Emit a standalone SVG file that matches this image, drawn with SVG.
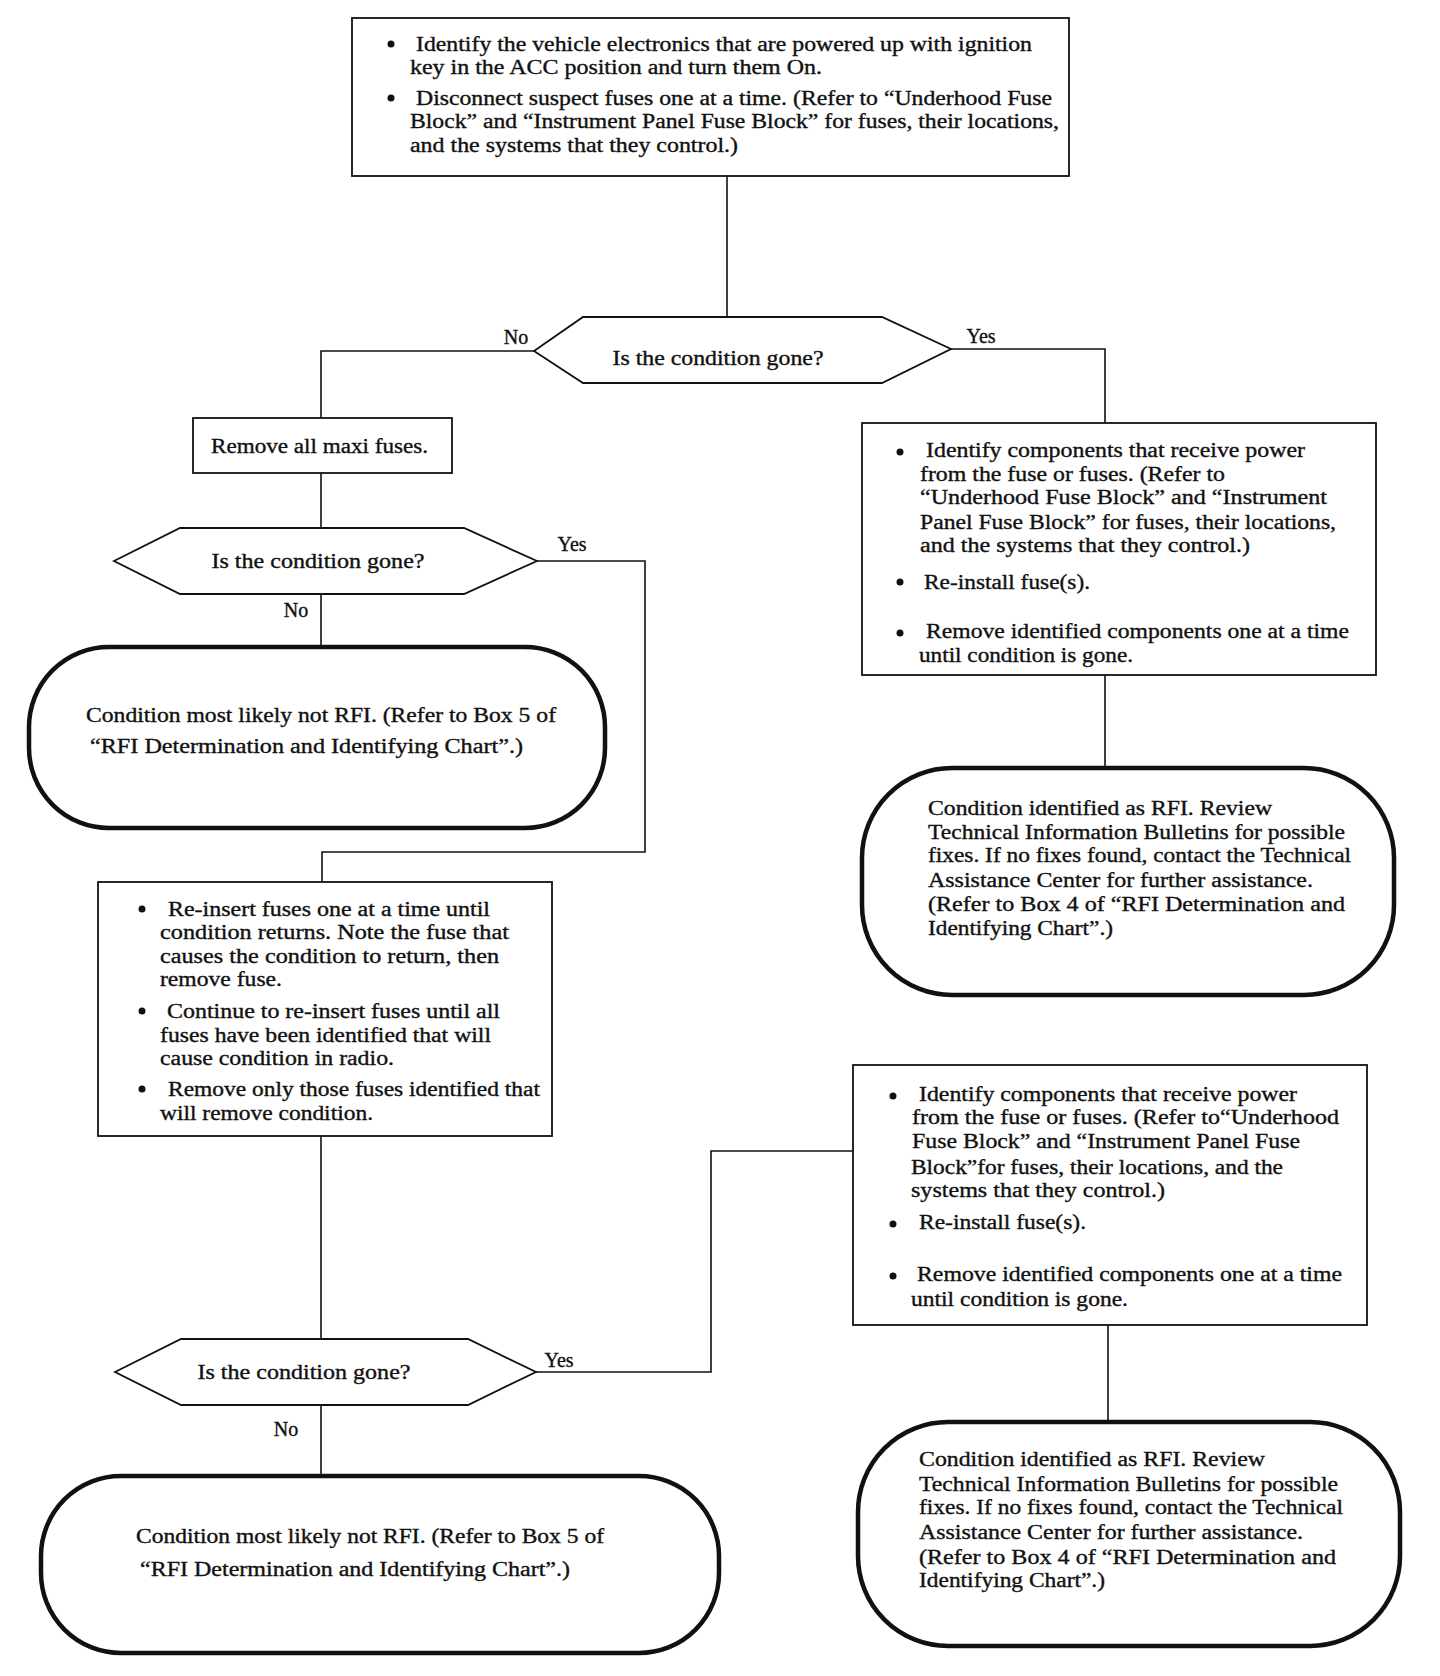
<svg xmlns="http://www.w3.org/2000/svg" width="1440" height="1676" viewBox="0 0 1440 1676">
<style>
text{font-family:"Liberation Serif","Times New Roman",serif;font-size:20px;fill:#111;stroke:#111;stroke-width:0.35}
.box{fill:#fff;stroke:#111;stroke-width:1.8}
.term{fill:#fff;stroke:#111;stroke-width:4.5}
.dec{fill:#fff;stroke:#111;stroke-width:1.8}
.con{fill:none;stroke:#111;stroke-width:1.6}
.lbl{font-size:20px}
.b{fill:#111}
</style>
<rect width="1440" height="1676" fill="#fff"/>
<g id="connectors">
<polyline class="con" points="727,176 727,317"/>
<polyline class="con" points="534,351 321,351 321,418"/>
<polyline class="con" points="951,349 1105,349 1105,423"/>
<polyline class="con" points="321,473 321,528"/>
<polyline class="con" points="537,561 645,561 645,852 322,852 322,882"/>
<polyline class="con" points="321,594 321,647"/>
<polyline class="con" points="1105,675 1105,768"/>
<polyline class="con" points="321,1136 321,1339"/>
<polyline class="con" points="536,1372 711,1372 711,1151 853,1151"/>
<polyline class="con" points="1108,1325 1108,1422"/>
<polyline class="con" points="321,1405 321,1476"/>
<text class="lbl" x="516" y="344" text-anchor="middle">No</text>
<text class="lbl" x="981" y="343" text-anchor="middle">Yes</text>
<text class="lbl" x="572" y="551" text-anchor="middle">Yes</text>
<text class="lbl" x="296" y="617" text-anchor="middle">No</text>
<text class="lbl" x="559" y="1367" text-anchor="middle">Yes</text>
<text class="lbl" x="286" y="1436" text-anchor="middle">No</text>
</g>
<g id="start">
<rect class="box" x="352" y="18" width="717" height="158"/>
<circle class="b" cx="391" cy="44" r="3.5"/>
<circle class="b" cx="391" cy="98" r="3.5"/>
<text x="416" y="51" textLength="616" lengthAdjust="spacingAndGlyphs">Identify the vehicle electronics that are powered up with ignition</text>
<text x="410" y="74" textLength="412" lengthAdjust="spacingAndGlyphs">key in the ACC position and turn them On.</text>
<text x="416" y="105" textLength="636" lengthAdjust="spacingAndGlyphs">Disconnect suspect fuses one at a time. (Refer to “Underhood Fuse</text>
<text x="410" y="128" textLength="649" lengthAdjust="spacingAndGlyphs">Block” and “Instrument Panel Fuse Block” for fuses, their locations,</text>
<text x="410" y="152" textLength="328" lengthAdjust="spacingAndGlyphs">and the systems that they control.)</text>
</g>
<g id="decision1">
<polygon class="dec" points="534,351 583,317 882,317 951,349 882,383 583,383"/>
<text x="718" y="365" text-anchor="middle" textLength="211" lengthAdjust="spacingAndGlyphs">Is the condition gone?</text>
</g>
<g id="maxi">
<rect class="box" x="193" y="418" width="259" height="55"/>
<text x="211" y="453" textLength="217" lengthAdjust="spacingAndGlyphs">Remove all maxi fuses.</text>
</g>
<g id="decision2">
<polygon class="dec" points="114,561 180,528 464,528 537,561 464,594 180,594"/>
<text x="318" y="568" text-anchor="middle" textLength="213" lengthAdjust="spacingAndGlyphs">Is the condition gone?</text>
</g>
<g id="notrfi1">
<rect class="term" x="29" y="647" width="576" height="181" rx="80" ry="80"/>
<text x="86" y="722" textLength="470" lengthAdjust="spacingAndGlyphs">Condition most likely not RFI. (Refer to Box 5 of</text>
<text x="90" y="753" textLength="433" lengthAdjust="spacingAndGlyphs">“RFI Determination and Identifying Chart”.)</text>
</g>
<g id="reinsert">
<rect class="box" x="98" y="882" width="454" height="254"/>
<circle class="b" cx="142" cy="909" r="3.5"/>
<circle class="b" cx="142" cy="1011" r="3.5"/>
<circle class="b" cx="142" cy="1089" r="3.5"/>
<text x="168" y="916" textLength="322" lengthAdjust="spacingAndGlyphs">Re-insert fuses one at a time until</text>
<text x="160" y="939" textLength="349" lengthAdjust="spacingAndGlyphs">condition returns. Note the fuse that</text>
<text x="160" y="963" textLength="339" lengthAdjust="spacingAndGlyphs">causes the condition to return, then</text>
<text x="160" y="986" textLength="122" lengthAdjust="spacingAndGlyphs">remove fuse.</text>
<text x="167" y="1018" textLength="333" lengthAdjust="spacingAndGlyphs">Continue to re-insert fuses until all</text>
<text x="160" y="1042" textLength="331" lengthAdjust="spacingAndGlyphs">fuses have been identified that will</text>
<text x="160" y="1065" textLength="234" lengthAdjust="spacingAndGlyphs">cause condition in radio.</text>
<text x="168" y="1096" textLength="372" lengthAdjust="spacingAndGlyphs">Remove only those fuses identified that</text>
<text x="160" y="1120" textLength="213" lengthAdjust="spacingAndGlyphs">will remove condition.</text>
</g>
<g id="decision3">
<polygon class="dec" points="115,1372 181,1339 468,1339 536,1372 468,1405 181,1405"/>
<text x="304" y="1379" text-anchor="middle" textLength="213" lengthAdjust="spacingAndGlyphs">Is the condition gone?</text>
</g>
<g id="notrfi2">
<rect class="term" x="41" y="1476" width="678" height="177" rx="80" ry="80"/>
<text x="136" y="1543" textLength="468" lengthAdjust="spacingAndGlyphs">Condition most likely not RFI. (Refer to Box 5 of</text>
<text x="140" y="1576" textLength="430" lengthAdjust="spacingAndGlyphs">“RFI Determination and Identifying Chart”.)</text>
</g>
<g id="identify1">
<rect class="box" x="862" y="423" width="514" height="252"/>
<circle class="b" cx="900" cy="452" r="3.5"/>
<circle class="b" cx="900" cy="582" r="3.5"/>
<circle class="b" cx="900" cy="633" r="3.5"/>
<text x="926" y="457" textLength="379" lengthAdjust="spacingAndGlyphs">Identify components that receive power</text>
<text x="920" y="481" textLength="305" lengthAdjust="spacingAndGlyphs">from the fuse or fuses. (Refer to</text>
<text x="920" y="504" textLength="407" lengthAdjust="spacingAndGlyphs">“Underhood Fuse Block” and “Instrument</text>
<text x="920" y="529" textLength="416" lengthAdjust="spacingAndGlyphs">Panel Fuse Block” for fuses, their locations,</text>
<text x="920" y="552" textLength="330" lengthAdjust="spacingAndGlyphs">and the systems that they control.)</text>
<text x="924" y="589" textLength="166" lengthAdjust="spacingAndGlyphs">Re-install fuse(s).</text>
<text x="926" y="638" textLength="423" lengthAdjust="spacingAndGlyphs">Remove identified components one at a time</text>
<text x="919" y="662" textLength="214" lengthAdjust="spacingAndGlyphs">until condition is gone.</text>
</g>
<g id="rfi1">
<rect class="term" x="862" y="768" width="532" height="227" rx="90" ry="90"/>
<text x="928" y="815" textLength="344" lengthAdjust="spacingAndGlyphs">Condition identified as RFI. Review</text>
<text x="928" y="839" textLength="417" lengthAdjust="spacingAndGlyphs">Technical Information Bulletins for possible</text>
<text x="928" y="862" textLength="423" lengthAdjust="spacingAndGlyphs">fixes. If no fixes found, contact the Technical</text>
<text x="928" y="887" textLength="385" lengthAdjust="spacingAndGlyphs">Assistance Center for further assistance.</text>
<text x="928" y="911" textLength="417" lengthAdjust="spacingAndGlyphs">(Refer to Box 4 of “RFI Determination and</text>
<text x="928" y="935" textLength="185" lengthAdjust="spacingAndGlyphs">Identifying Chart”.)</text>
</g>
<g id="identify2">
<rect class="box" x="853" y="1065" width="514" height="260"/>
<circle class="b" cx="893" cy="1096" r="3.5"/>
<circle class="b" cx="893" cy="1224" r="3.5"/>
<circle class="b" cx="893" cy="1276" r="3.5"/>
<text x="919" y="1101" textLength="378" lengthAdjust="spacingAndGlyphs">Identify components that receive power</text>
<text x="912" y="1124" textLength="427" lengthAdjust="spacingAndGlyphs">from the fuse or fuses. (Refer to“Underhood</text>
<text x="912" y="1148" textLength="388" lengthAdjust="spacingAndGlyphs">Fuse Block” and “Instrument Panel Fuse</text>
<text x="911" y="1174" textLength="372" lengthAdjust="spacingAndGlyphs">Block”for fuses, their locations, and the</text>
<text x="911" y="1197" textLength="254" lengthAdjust="spacingAndGlyphs">systems that they control.)</text>
<text x="919" y="1229" textLength="167" lengthAdjust="spacingAndGlyphs">Re-install fuse(s).</text>
<text x="917" y="1281" textLength="425" lengthAdjust="spacingAndGlyphs">Remove identified components one at a time</text>
<text x="911" y="1306" textLength="217" lengthAdjust="spacingAndGlyphs">until condition is gone.</text>
</g>
<g id="rfi2">
<rect class="term" x="858" y="1422" width="542" height="224" rx="90" ry="90"/>
<text x="919" y="1466" textLength="346" lengthAdjust="spacingAndGlyphs">Condition identified as RFI. Review</text>
<text x="919" y="1491" textLength="419" lengthAdjust="spacingAndGlyphs">Technical Information Bulletins for possible</text>
<text x="919" y="1514" textLength="424" lengthAdjust="spacingAndGlyphs">fixes. If no fixes found, contact the Technical</text>
<text x="919" y="1539" textLength="384" lengthAdjust="spacingAndGlyphs">Assistance Center for further assistance.</text>
<text x="919" y="1564" textLength="417" lengthAdjust="spacingAndGlyphs">(Refer to Box 4 of “RFI Determination and</text>
<text x="919" y="1587" textLength="186" lengthAdjust="spacingAndGlyphs">Identifying Chart”.)</text>
</g>
</svg>
